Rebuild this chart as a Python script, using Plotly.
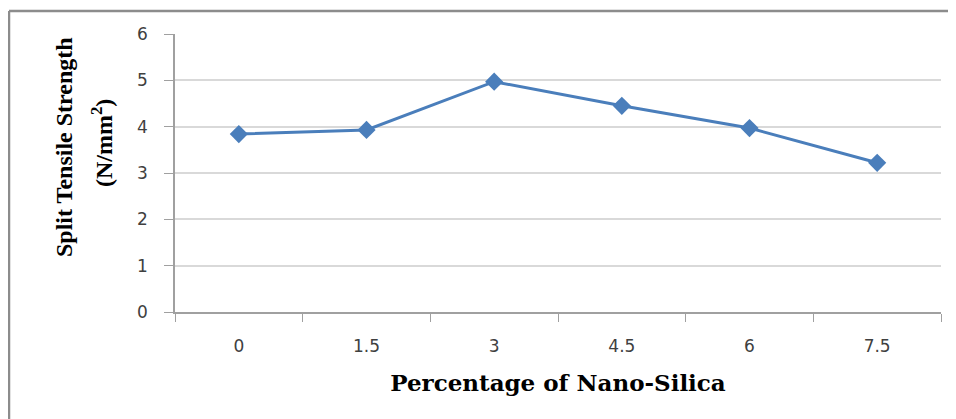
import plotly.graph_objects as go

categories = ["0", "1.5", "3", "4.5", "6", "7.5"]
strength = [3.84, 3.93, 4.97, 4.45, 3.97, 3.22]
y_ticks = [0, 1, 2, 3, 4, 5, 6]

OFF = 8  # browser body margin
W, H = 956 - OFF, 419 - OFF
# desired screen coordinates of plot area
SX0, SX1, SY0, SY1 = 175, 941, 34, 312
L = SX0 - OFF
R = W - (SX1 - OFF)
T = SY0 - OFF
B = H - (SY1 - OFF)
pw = SX1 - SX0
ph = SY1 - SY0

def px_x(x):
    return (x - SX0) / pw

def px_y(y):
    return (SY1 - y) / ph

fig = go.Figure()
fig.add_trace(go.Scatter(
    x=categories, y=strength, mode="lines+markers",
    line=dict(color="#4a7ebb", width=3),
    marker=dict(symbol="diamond", size=14, color="#4a7ebb"),
    showlegend=False,
))

fig.update_layout(
    width=W, height=H,
    margin=dict(l=L, r=R, t=T, b=B),
    paper_bgcolor="white", plot_bgcolor="white",
    xaxis=dict(
        type="category", range=[-0.5, len(categories) - 0.5],
        tickson="boundaries", ticks="outside", ticklen=8,
        tickcolor="#a0a0a0", showline=True, linecolor="#a0a0a0", linewidth=1.5,
        showgrid=False, ticklabelstandoff=18,
        tickfont=dict(family="DejaVu Sans", size=17, color="#404040"),
        title=dict(text="<b>Percentage of Nano-Silica</b>",
                   font=dict(family="DejaVu Serif", size=23, color="black"),
                   standoff=20),
    ),
    yaxis=dict(
        range=[0, 6], tickvals=y_ticks, ticks="outside", ticklen=9,
        tickcolor="#a0a0a0", showline=True, linecolor="#a0a0a0", linewidth=1.5,
        showgrid=True, gridcolor="#d9d9d9", gridwidth=1.5, zeroline=False,
        ticklabelstandoff=13,
        tickfont=dict(family="DejaVu Sans", size=17, color="#404040"),
    ),
    annotations=[
        dict(text="<b>Split Tensile Strength</b>", textangle=-90,
             xref="paper", yref="paper", x=px_x(64), y=px_y(147),
             xanchor="center", yanchor="middle", showarrow=False,
             font=dict(family="Liberation Serif", size=24, color="black")),
        dict(text="<b>(N/mm<sup>2</sup>)</b>", textangle=-90,
             xref="paper", yref="paper", x=px_x(102), y=px_y(143),
             xanchor="center", yanchor="middle", showarrow=False,
             font=dict(family="Liberation Serif", size=24, color="black")),
    ],
    shapes=[
        dict(type="line", xref="paper", yref="paper",
             x0=px_x(9), x1=px_x(9), y0=px_y(11), y1=px_y(460),
             line=dict(color="#8c8c8c", width=2.5)),
        dict(type="line", xref="paper", yref="paper",
             x0=px_x(9), x1=px_x(970), y0=px_y(11), y1=px_y(11),
             line=dict(color="#8c8c8c", width=2.5)),
    ],
)

fig.write_html("out.html")
